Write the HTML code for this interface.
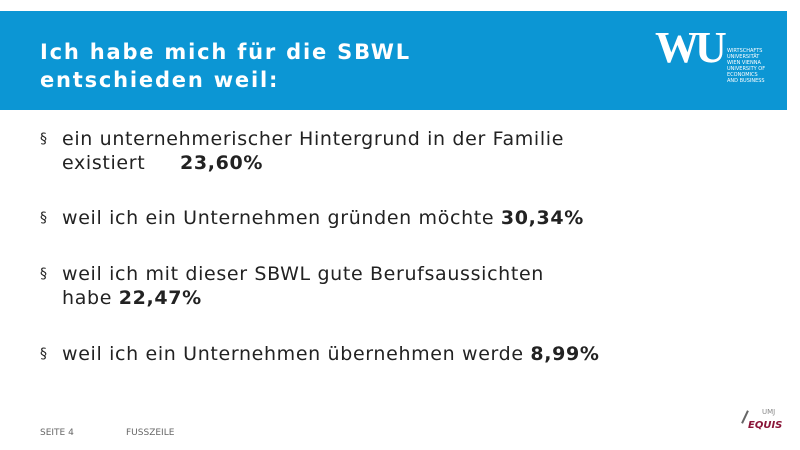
<!DOCTYPE html>
<html><head><meta charset="utf-8"><style>
body{margin:0;width:800px;height:450px;background:#fff;position:relative;overflow:hidden;font-family:"DejaVu Sans","Liberation Sans",sans-serif}
.hdr{position:absolute;left:0;top:11px;width:787px;height:99px;background:#0c96d4}
.title{position:absolute;left:40px;top:38px;color:#fff;font-weight:bold;font-size:21px;line-height:28px;letter-spacing:1.8px}
.b{position:absolute;left:62px;font-size:19px;line-height:24px;color:#222;letter-spacing:0.65px}
.b:before{content:"§";position:absolute;left:-22px;font-size:14px}
.f{position:absolute;top:428px;font-size:9px;color:#666}
</style></head><body>
<div class="hdr"></div>
<div class="title">Ich habe mich für die SBWL<br>entschieden weil:</div>
<div style="position:absolute;left:655px;top:26px;color:#fff">
<div style="font-family:'Liberation Serif',serif;font-weight:bold;font-size:44px;line-height:44px;letter-spacing:-4px">WU</div>
<div style="position:absolute;left:72px;top:22px;font-size:5px;line-height:6px;width:50px">WIRTSCHAFTS<br>UNIVERSITÄT<br>WIEN VIENNA<br>UNIVERSITY OF<br>ECONOMICS<br>AND BUSINESS</div>
</div>
<div class="b" style="top:127px">ein unternehmerischer Hintergrund in der Familie<br>existiert <span style="margin-left:28px"><b>23,60%</b></span></div>
<div class="b" style="top:206px">weil ich ein Unternehmen gründen möchte <b>30,34%</b></div>
<div class="b" style="top:262px">weil ich mit dieser SBWL gute Berufsaussichten<br>habe <b>22,47%</b></div>
<div class="b" style="top:342px">weil ich ein Unternehmen übernehmen werde <b>8,99%</b></div>
<div class="f" style="left:40px">SEITE 4</div>
<div class="f" style="left:126px">FUSSZEILE</div>
<div style="position:absolute;left:740px;top:408px;width:45px;height:30px">
<div style="position:absolute;left:22px;top:0;font-size:7px;color:#888">UMJ</div>
<div style="position:absolute;left:8px;top:12px;font-size:10px;font-weight:bold;font-style:italic;color:#8a1538">EQUIS</div>
<div style="position:absolute;left:4px;top:2px;width:2px;height:14px;background:#666;transform:rotate(25deg)"></div>
</div>
</body></html>
